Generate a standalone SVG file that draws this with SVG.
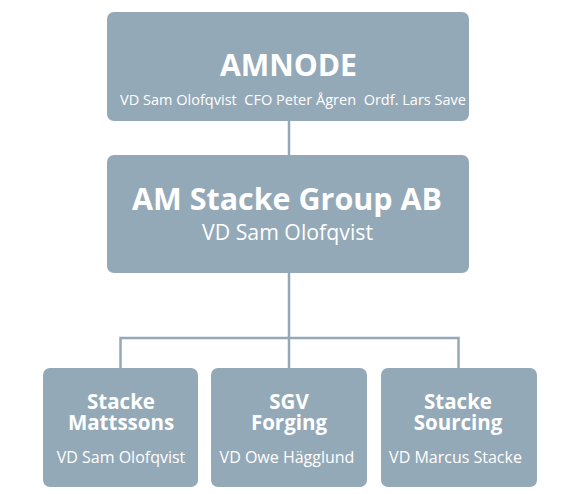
<svg xmlns="http://www.w3.org/2000/svg" width="582" height="494" viewBox="0 0 582 494">
<style>
.box{fill:#94a9b7}
.t{fill:#fff;font-family:"Open Sans","Noto Sans",sans-serif;text-anchor:middle;white-space:pre}
.b{font-weight:bold}
.conn{fill:none;stroke:#94a9b7;stroke-width:2.5}
</style>
<rect width="582" height="494" fill="#fff"/>
<g id="connectors" class="conn">
<path d="M289 121V155"/>
<path d="M289 273V368"/>
<path d="M120.5 368V338H458.5V368"/>
</g>
<g id="amnode">
<rect class="box" x="107" y="12" width="362" height="109" rx="7"/>
<text class="t b" x="288.5" y="76" font-size="30" textLength="137" lengthAdjust="spacingAndGlyphs">AMNODE</text>
<text class="t" x="293" y="105" font-size="15" xml:space="preserve" textLength="346" lengthAdjust="spacingAndGlyphs">VD Sam Olofqvist  CFO Peter Ågren  Ordf. Lars Save</text>
</g>
<g id="group">
<rect class="box" x="107" y="155" width="362" height="118" rx="7"/>
<text class="t b" x="287" y="210" font-size="30" textLength="310" lengthAdjust="spacingAndGlyphs">AM Stacke Group AB</text>
<text class="t" x="287.5" y="240" font-size="21" textLength="171" lengthAdjust="spacingAndGlyphs">VD Sam Olofqvist</text>
</g>
<g id="mattssons">
<rect class="box" x="43" y="368" width="155" height="119" rx="7"/>
<text class="t b" x="121" y="408.5" font-size="20.5">Stacke</text>
<text class="t b" x="121" y="430" font-size="20.5">Mattssons</text>
<text class="t" x="121" y="463" font-size="16">VD Sam Olofqvist</text>
</g>
<g id="sgv">
<rect class="box" x="211" y="368" width="156" height="119" rx="7"/>
<text class="t b" x="289" y="408.5" font-size="20.5">SGV</text>
<text class="t b" x="289" y="430" font-size="20.5">Forging</text>
<text class="t" x="287" y="463" font-size="16">VD Owe Hägglund</text>
</g>
<g id="sourcing">
<rect class="box" x="381" y="368" width="156" height="119" rx="7"/>
<text class="t b" x="458" y="408.5" font-size="20.5">Stacke</text>
<text class="t b" x="458" y="430" font-size="20.5">Sourcing</text>
<text class="t" x="455.5" y="463" font-size="16">VD Marcus Stacke</text>
</g>
</svg>
